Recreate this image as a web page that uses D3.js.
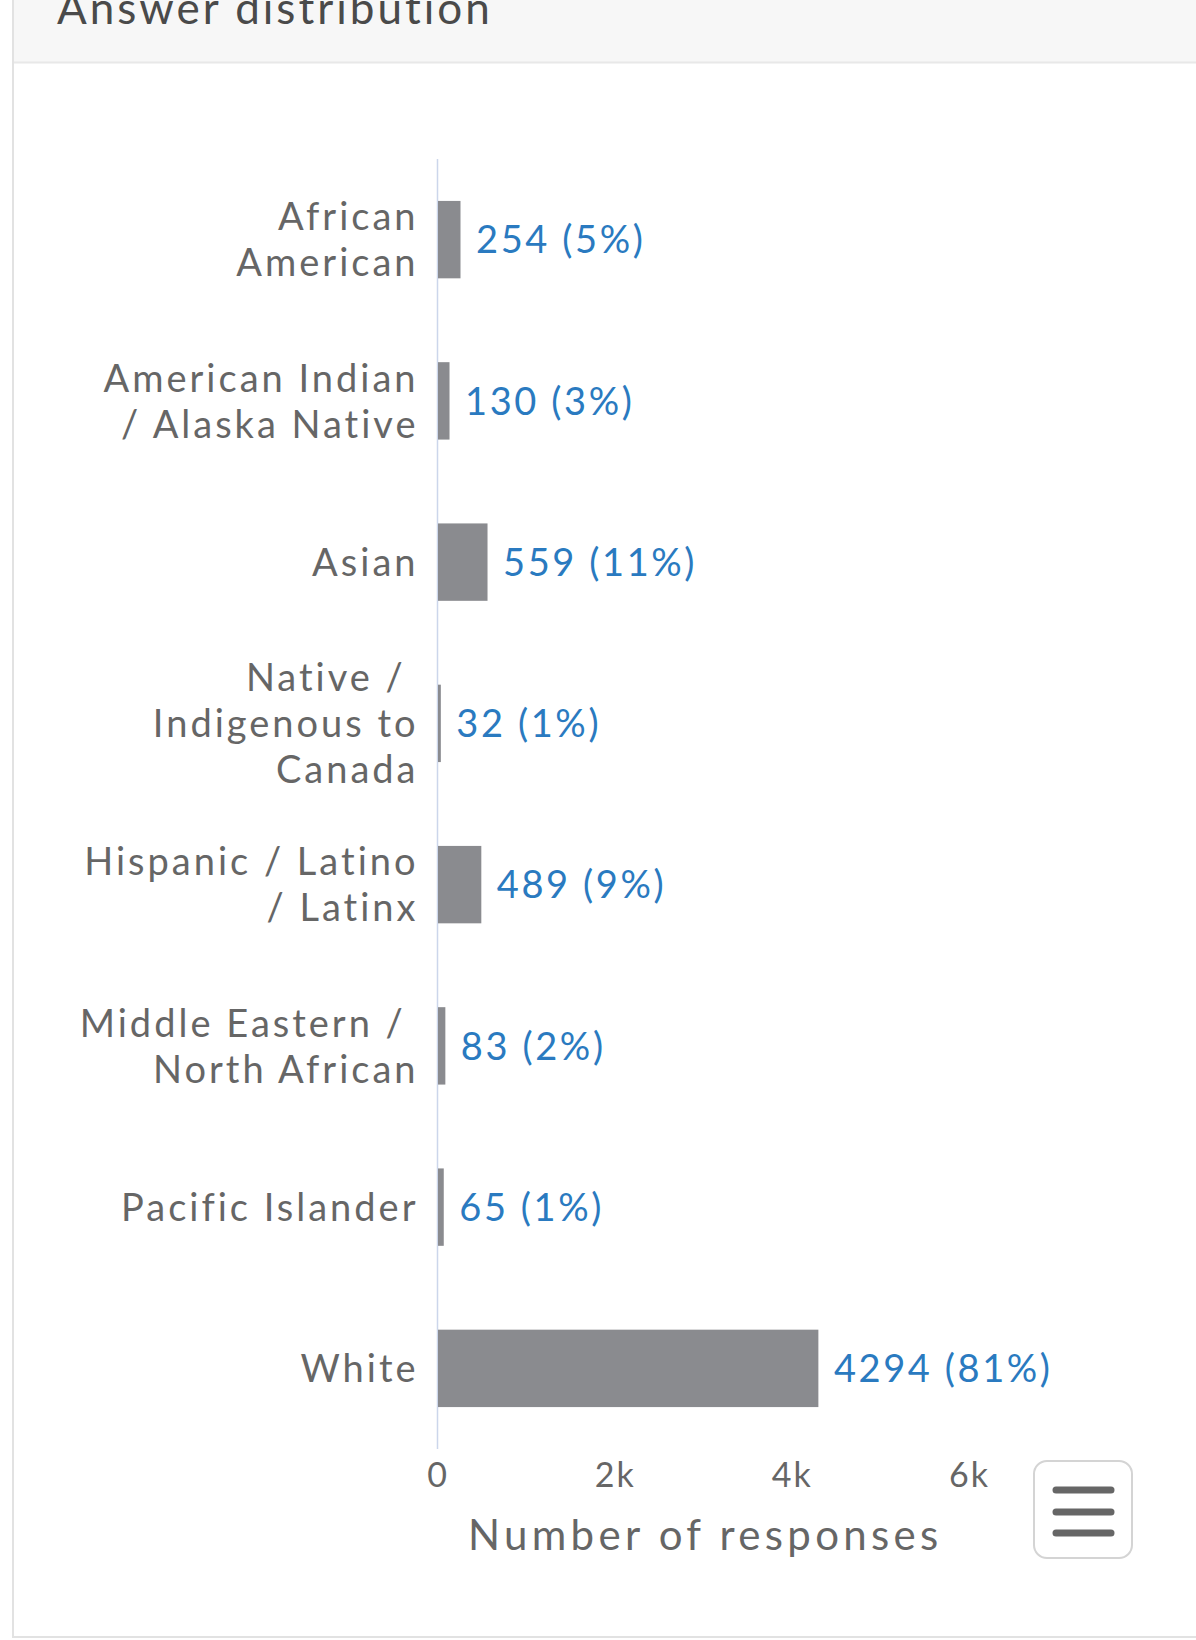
<!DOCTYPE html>
<html>
<head>
<meta charset="utf-8">
<script src="https://cdn.jsdelivr.net/npm/d3@7"></script>
<style>
  body { margin: 0; background: #fff; }
  svg text { font-family: Lato, "Open Sans", sans-serif; }
</style>
</head>
<body>
<div id="chart"></div>
<script>
// answer counts, one per category
var categoryLines = [
  ["African", "American"],
  ["American Indian", "/ Alaska Native"],
  ["Asian"],
  ["Native / ", "Indigenous to", "Canada"],
  ["Hispanic / Latino", "/ Latinx"],
  ["Middle Eastern / ", "North African"],
  ["Pacific Islander"],
  ["White"]
];
var responses = [254, 130, 559, 32, 489, 83, 65, 4294];
var percents = [5, 3, 11, 1, 9, 2, 1, 81];
var xTicks = [0, 2000, 4000, 6000];
var xTickLabels = ["0", "2k", "4k", "6k"];

var width = 1196, height = 1640;

var svg = d3.select("#chart")
  .append("svg")
  .attr("width", width)
  .attr("height", height);

// panel + header
svg.append("rect")
  .attr("x", 13).attr("y", -10)
  .attr("width", width + 20).attr("height", 1647)
  .attr("fill", "#fff")
  .attr("stroke", "#e2e2e2")
  .attr("stroke-width", 2);

svg.append("rect")
  .attr("x", 14).attr("y", 0)
  .attr("width", width).attr("height", 62)
  .attr("fill", "#f7f7f7");

svg.append("line")
  .attr("x1", 14).attr("x2", width)
  .attr("y1", 62.5).attr("y2", 62.5)
  .attr("stroke", "#e8e8e8")
  .attr("stroke-width", 2);

svg.append("text")
  .attr("x", 57)
  .attr("y", 24)
  .attr("font-size", 44)
  .attr("letter-spacing", 3)
  .attr("fill", "#4a4a4a")
  .text("Answer distribution");

var x = d3.scaleLinear().domain([0, 6000]).range([437.5, 969]);
var y = d3.scaleBand()
  .domain(d3.range(responses.length))
  .range([159, 1449])
  .paddingInner(0.52)
  .paddingOuter(0.26);

// axis line
svg.append("line")
  .attr("x1", x(0)).attr("x2", x(0))
  .attr("y1", 159).attr("y2", 1449)
  .attr("stroke", "#ccd6eb")
  .attr("stroke-width", 1.5);

// bars
svg.selectAll(".bar")
  .data(responses)
  .enter()
  .append("rect")
  .attr("class", "bar")
  .attr("x", x(0) + 0.5)
  .attr("y", function (d, i) { return y(i); })
  .attr("width", function (d) { return x(d) - x(0); })
  .attr("height", y.bandwidth())
  .attr("fill", "#8a8b8f");

// value labels
svg.selectAll(".val")
  .data(responses)
  .enter()
  .append("text")
  .attr("class", "val")
  .attr("x", function (d) { return x(d) + 16; })
  .attr("y", function (d, i) { return y(i) + y.bandwidth() / 2; })
  .attr("dy", "0.36em")
  .attr("font-size", 38)
  .attr("letter-spacing", 2.6)
  .attr("fill", "#2a7ac0")
  .text(function (d, i) { return d + " (" + percents[i] + "%)"; });

// category labels
var lineH = 46;
var cat = svg.selectAll(".cat")
  .data(categoryLines)
  .enter()
  .append("text")
  .attr("class", "cat")
  .attr("text-anchor", "end")
  .attr("font-size", 38)
  .attr("letter-spacing", 3)
  .attr("fill", "#666")
  .attr("xml:space", "preserve")
  .style("white-space", "pre");

cat.each(function (lines, i) {
  var cy = y(i) + y.bandwidth() / 2;
  var first = cy - (lines.length - 1) * lineH / 2;
  d3.select(this).selectAll("tspan")
    .data(lines)
    .enter()
    .append("tspan")
    .attr("x", 418.5)
    .attr("y", function (d, j) { return first + j * lineH; })
    .attr("dy", "0.36em")
    .text(function (d) { return d; });
});

// x axis labels
var axis = d3.axisBottom(x)
  .tickValues(xTicks)
  .tickFormat(function (d, i) { return xTickLabels[i]; })
  .tickSize(0)
  .tickPadding(0);

var gx = svg.append("g")
  .attr("transform", "translate(0,1449)")
  .call(axis);
gx.select(".domain").remove();
gx.selectAll("text")
  .attr("y", 38)
  .attr("dy", 0)
  .attr("font-size", 34)
  .attr("letter-spacing", 2)
  .attr("font-family", "Lato, sans-serif")
  .attr("fill", "#666");

svg.append("text")
  .attr("x", (x.range()[0] + x.range()[1]) / 2 + 2)
  .attr("y", 1550)
  .attr("text-anchor", "middle")
  .attr("font-size", 42)
  .attr("letter-spacing", 4.3)
  .attr("fill", "#666")
  .text("Number of responses");

// menu button
var btn = svg.append("g").attr("transform", "translate(1034,1461)");
btn.append("rect")
  .attr("width", 98).attr("height", 97)
  .attr("rx", 13)
  .attr("fill", "#fff")
  .attr("stroke", "#d4d4d4")
  .attr("stroke-width", 2);
btn.selectAll("line")
  .data([29, 51, 72])
  .enter()
  .append("line")
  .attr("x1", 22).attr("x2", 77)
  .attr("y1", function (d) { return d; })
  .attr("y2", function (d) { return d; })
  .attr("stroke", "#666")
  .attr("stroke-width", 7)
  .attr("stroke-linecap", "round");
</script>
</body>
</html>
